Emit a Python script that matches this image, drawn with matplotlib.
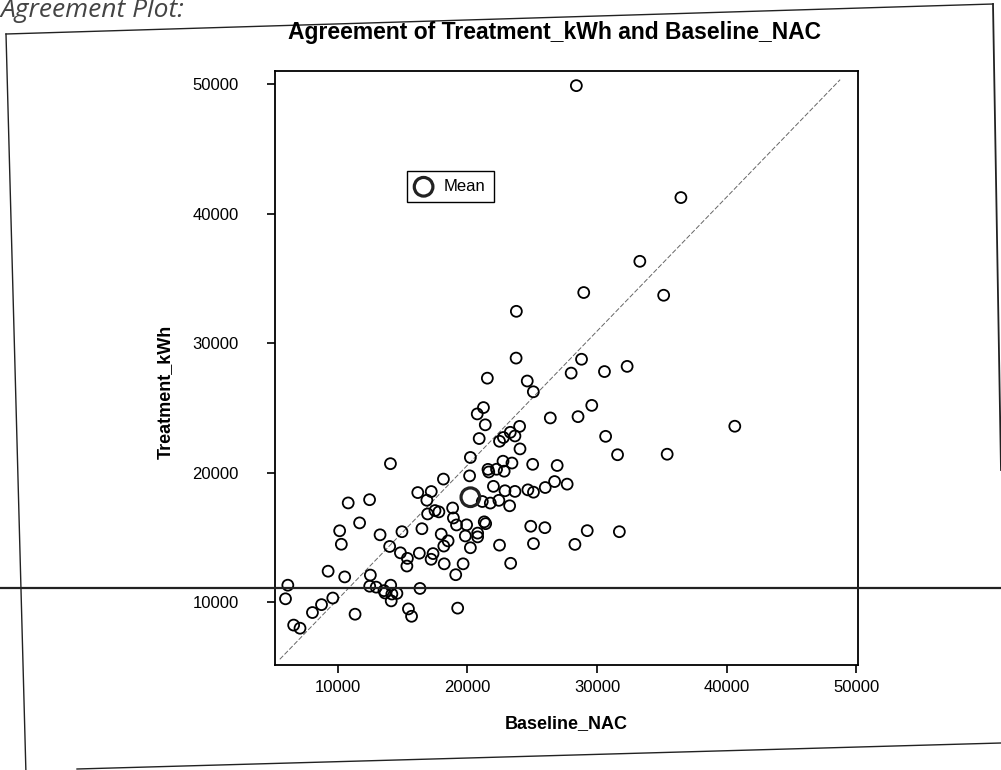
import matplotlib
matplotlib.use('Agg')
import matplotlib.pyplot as plt
from matplotlib.lines import Line2D

# values
baseline_nac = [28410, 36480, 33310, 28980, 35150, 23780, 23760, 28810, 28010, 30580,
                32330, 21540, 24620, 25090, 29600, 21240, 20760, 26400, 28540, 21380,
                24030, 23310, 40640, 20910, 22480, 22780, 23670, 30670, 24060, 31590,
                35420, 20230, 14060, 22750, 23440, 25040, 26930, 21590, 22250, 22840,
                21650, 20170, 18150, 26730, 27700, 22010, 26010, 16170, 17210, 22900,
                23670, 24670, 25100, 16870, 10800, 12450, 21150, 21770, 22430, 23260,
                18860, 18920, 16930, 17500, 17800, 11680, 19160, 19940, 21300, 21410,
                24890, 25980, 29250, 31730, 16490, 14950, 10140, 13260, 17980, 19840,
                20790, 20790, 10270, 14000, 18510, 18180, 20230, 22480, 25100, 28300,
                14830, 15370, 16290, 17350, 17200, 15330, 18210, 19670, 23340, 9250,
                10530, 12510, 19100, 6140, 12460, 12960, 13560, 14080, 14170, 14560,
                16340, 5960, 9610, 8740, 8040, 14120, 11330, 15450, 15690, 19250,
                6590, 7080, 13640]
treatment_kwh = [49870, 41230, 36310, 33900, 33690, 32450, 28840, 28750, 27680, 27800,
                 28200, 27290, 27070, 26240, 25190, 25020, 24530, 24220, 24320, 23690,
                 23570, 23110, 23580, 22630, 22420, 22710, 22830, 22800, 21830, 21380,
                 21420, 21170, 20690, 20880, 20740, 20640, 20550, 20250, 20260, 20110,
                 20050, 19750, 19500, 19310, 19110, 18940, 18850, 18460, 18540, 18600,
                 18550, 18670, 18490, 17870, 17660, 17910, 17770, 17650, 17860, 17440,
                 17270, 16500, 16810, 17070, 16970, 16120, 15960, 15970, 16200, 16060,
                 15860, 15750, 15520, 15440, 15670, 15440, 15510, 15200, 15250, 15110,
                 15330, 15040, 14470, 14300, 14730, 14330, 14200, 14400, 14520, 14460,
                 13810, 13380, 13780, 13750, 13310, 12790, 12960, 12960, 13000, 12390,
                 11950, 12090, 12120, 11310, 11230, 11160, 10890, 11310, 10630, 10680,
                 11060, 10260, 10320, 9810, 9200, 10100, 9070, 9480, 8910, 9540,
                 8230, 7990, 10710]
mean_baseline = 20230
mean_treatment = 18100
# agreement line as it sits on the scanned page
agree_x = [5520, 48770]
agree_y = [5590, 50330]
ticks = [10000, 20000, 30000, 40000, 50000]
x_range = (5150, 50150)
y_range = (5150, 51000)

W, H = 1001, 770
fig = plt.figure(figsize=(W / 100, H / 100), dpi=100)
fig.patch.set_facecolor('white')


def px(x, y):
    return x / W, 1 - y / H


# outer page frame and scan artefacts
for (x0, y0), (x1, y1), lw in [((6, 34), (993, 4), 1.0),
                               ((6, 34), (26, 775), 1.0),
                               ((77, 769), (1001, 743), 1.0),
                               ((993, 4), (1001, 470), 1.3),
                               ((0, 588), (1001, 588), 1.6)]:
    a, b = px(x0, y0)
    c, d = px(x1, y1)
    fig.add_artist(Line2D([a, c], [b, d], transform=fig.transFigure,
                          color='#222222', lw=lw))

fig.text(0.0, 1 - 17 / H, 'Agreement Plot:', style='italic', fontsize=19,
         color='#444444', family='Open Sans', va='baseline')

ax = fig.add_axes([275 / W, 105 / H, 583 / W, 594 / H])
ax.plot(agree_x, agree_y, color='#666666', lw=0.7, ls=(0, (5, 2)), zorder=1)
ax.scatter(baseline_nac, treatment_kwh, s=62, facecolors='none',
           edgecolors='black', linewidths=1.3, zorder=3)
ax.scatter([mean_baseline], [mean_treatment], s=180, facecolors='none',
           edgecolors='#222222', linewidths=2.3, zorder=4, label='Mean')

ax.set_xlim(x_range)
ax.set_ylim(y_range)
ax.set_xticks(ticks)
ax.set_yticks(ticks)
for sp in ax.spines.values():
    sp.set_linewidth(1.3)
ax.tick_params(length=6, width=1.2, labelsize=12)
ax.tick_params(axis='x', pad=5)
ax.tick_params(axis='y', pad=20)
for lab in ax.get_xticklabels() + ax.get_yticklabels():
    lab.set_family('Liberation Sans')

ax.set_xlabel('Baseline_NAC', fontsize=13, fontweight='bold',
              family='Liberation Sans', labelpad=14)
fig.text(165 / W, 1 - 392 / H, 'Treatment_kWh', rotation=90, ha='center',
         va='center', fontsize=13, fontweight='bold', family='Liberation Sans')
fig.text(555 / W, 1 - 33 / H, 'Agreement of Treatment_kWh and Baseline_NAC',
         ha='center', va='center', fontsize=16.5, fontweight='bold',
         family='Liberation Sans')

leg = ax.legend(loc='upper left', bbox_to_anchor=(0.212, 0.846), fancybox=False,
                edgecolor='black', framealpha=1, handletextpad=0.7,
                borderpad=0.5, handlelength=1.0,
                prop={'family': 'Liberation Sans', 'size': 12})
leg.get_frame().set_linewidth(1.0)

fig.savefig('out.png', dpi=100)
